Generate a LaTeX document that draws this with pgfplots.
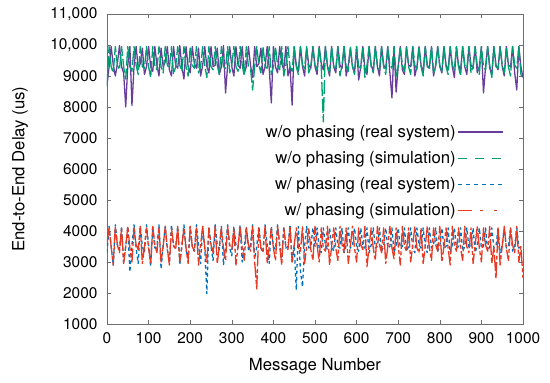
\documentclass[border=0pt]{standalone}
\usepackage{fontspec}
\setmainfont{TeX Gyre Heros}
\usepackage{pgfplots}
\usepackage{pgfplotstable}
\pgfplotsset{compat=1.18}
\definecolor{cpurple}{RGB}{106,61,154}
\definecolor{cgreen}{RGB}{0,158,115}
\definecolor{cblue}{RGB}{0,114,189}
\definecolor{cred}{RGB}{232,57,35}
\definecolor{caxis}{RGB}{110,110,110}

\pgfplotstableread[row sep=\\]{y\\
8700\\9300\\9950\\9350\\9000\\9400\\9980\\9300\\9100\\8000\\
9350\\9950\\8050\\9300\\9950\\9250\\9400\\9900\\9050\\9300\\
9950\\9300\\9150\\9950\\9350\\9000\\9900\\9300\\9450\\9950\\
9200\\9000\\9950\\9350\\9250\\9980\\9300\\8900\\9950\\9300\\
9100\\9950\\9400\\9250\\9900\\9000\\9350\\9950\\9300\\9100\\
9950\\9300\\9350\\9900\\9050\\9300\\9980\\8450\\9350\\9950\\
9300\\9000\\9950\\9350\\9250\\9950\\9100\\9300\\9950\\9350\\
8950\\9950\\9300\\9400\\9900\\9050\\9300\\9950\\9250\\8130\\
9950\\9300\\9100\\9950\\9400\\9200\\9950\\9000\\9300\\8060\\
9950\\9350\\9150\\9950\\9300\\9000\\9900\\9350\\9250\\9950\\
9300\\9050\\9950\\9400\\9200\\9950\\9300\\9000\\9950\\9300\\
9100\\9950\\9350\\9250\\9950\\9000\\9350\\9900\\9300\\9100\\
9950\\8870\\9300\\9950\\9250\\9050\\9950\\9350\\9150\\9950\\
9300\\9000\\9950\\9350\\9250\\9950\\9100\\8290\\9950\\8480\\
9300\\9950\\9200\\9050\\9950\\9350\\9300\\9950\\9000\\9300\\
9950\\9350\\9100\\9950\\9300\\9250\\9950\\9000\\9350\\9950\\
9300\\9100\\9950\\9350\\9200\\9950\\9300\\8950\\9950\\9350\\
9200\\9950\\9300\\9050\\9950\\9350\\9250\\9950\\9100\\9300\\
9950\\8450\\9300\\9950\\9250\\9050\\9950\\9350\\9200\\9950\\
9300\\9000\\9950\\9350\\9300\\9950\\9100\\8550\\9950\\9300\\
8950\\}\tblP

\pgfplotstableread[row sep=\\]{y\\
8650\\9950\\9300\\9100\\9950\\9350\\9200\\9950\\9300\\8900\\
9950\\9300\\9150\\9950\\9350\\9050\\9950\\9300\\9250\\9950\\
9300\\8950\\9950\\9350\\9200\\9950\\9300\\9100\\9950\\9350\\
9250\\9950\\9050\\9300\\9950\\9350\\9150\\9950\\9300\\9000\\
9950\\9350\\9250\\9950\\9100\\9300\\9950\\9350\\8950\\9950\\
9300\\9200\\9950\\9350\\9050\\9950\\9300\\9250\\9950\\9100\\
9350\\9950\\9300\\9150\\9950\\9350\\9000\\9950\\9300\\9250\\
8550\\9300\\9950\\9350\\9100\\9950\\9300\\9250\\9950\\9050\\
9300\\9950\\9350\\9200\\9950\\9000\\9350\\9950\\9300\\9150\\
9950\\9300\\9050\\9950\\9350\\9250\\9950\\9100\\9300\\9950\\
9350\\9200\\9950\\9300\\7520\\9950\\9350\\9100\\9950\\9300\\
9250\\9950\\9000\\9350\\9950\\9300\\9150\\9950\\9350\\9050\\
9950\\9300\\9250\\9950\\8950\\9350\\9950\\9300\\9100\\9950\\
9350\\9200\\9950\\9300\\9050\\9950\\9350\\9250\\9950\\9000\\
9300\\9950\\9350\\9150\\9950\\9300\\9050\\9950\\9350\\9200\\
9950\\9300\\9000\\9950\\9350\\9250\\9950\\9100\\9300\\9950\\
9350\\9150\\9950\\9300\\9050\\9950\\9350\\9200\\9950\\9300\\
9000\\9950\\9350\\9250\\9950\\9100\\9300\\9950\\9350\\9050\\
9950\\9300\\9200\\9950\\9350\\8950\\9950\\9300\\9250\\9950\\
9350\\9100\\9950\\9300\\9000\\9950\\9350\\9250\\9950\\9050\\
8900\\}\tblG

\pgfplotstableread[row sep=\\]{y\\
3300\\4150\\3500\\2900\\4200\\3550\\3400\\4150\\3000\\3500\\
4150\\2680\\3550\\4200\\3450\\2950\\4150\\3500\\3300\\4200\\
3550\\2850\\4150\\3450\\3500\\4200\\2770\\3550\\4150\\3400\\
3000\\4200\\3500\\3450\\4150\\2900\\3550\\4200\\3400\\3100\\
4150\\3500\\3350\\4200\\3550\\2950\\4150\\3450\\1980\\4150\\
3500\\3050\\4200\\3550\\3400\\4150\\2900\\3500\\4200\\3450\\
3200\\4150\\3550\\3450\\4200\\3000\\3500\\4150\\3400\\3550\\
4200\\3100\\3500\\4150\\3450\\3300\\4200\\3550\\2950\\4150\\
3500\\3400\\4200\\3550\\3100\\4150\\3450\\3500\\4200\\2950\\
3550\\2100\\4150\\2700\\2200\\3500\\4150\\3450\\3500\\4100\\
3500\\4100\\3450\\3300\\4100\\3550\\3400\\4100\\3500\\3350\\
4100\\3500\\3450\\4100\\3300\\3550\\4100\\3450\\3500\\4100\\
3500\\3350\\4100\\3500\\3450\\4100\\3300\\3550\\4100\\3450\\
3500\\4100\\3350\\3500\\4100\\3450\\3500\\4100\\3300\\3550\\
4100\\3450\\3500\\4100\\3350\\3500\\4100\\3450\\3300\\4100\\
3550\\3450\\4100\\3500\\3300\\4100\\3450\\3550\\4100\\3350\\
3500\\4100\\3450\\3500\\4100\\3300\\3550\\4100\\3450\\3500\\
4100\\3350\\3500\\4100\\3450\\3500\\4100\\3300\\3550\\4100\\
3450\\3500\\4100\\3350\\3500\\4100\\3450\\3500\\4100\\3300\\
3550\\4100\\3450\\3500\\4100\\3350\\3500\\4100\\3450\\3500\\
3500\\}\tblB

\pgfplotstableread[row sep=\\]{y\\
3600\\4100\\3500\\2900\\4150\\3550\\3300\\4100\\2950\\3500\\
4150\\3450\\3000\\4100\\3550\\3400\\4150\\2950\\3500\\4100\\
3450\\2950\\4150\\3550\\3300\\4100\\3000\\3500\\4150\\3450\\
2900\\4100\\3550\\3400\\4150\\3000\\3500\\4100\\3450\\2950\\
4150\\3500\\3350\\4100\\2900\\3550\\4150\\3450\\3000\\4100\\
3550\\3300\\4150\\2950\\3500\\4100\\3450\\3050\\4150\\3550\\
3400\\4100\\2900\\3500\\4150\\3450\\3050\\4100\\3550\\3350\\
4150\\3000\\2130\\4100\\3450\\3350\\4150\\2950\\3500\\4100\\
3450\\3050\\4150\\3550\\2900\\4100\\3500\\3400\\4150\\3000\\
3550\\4100\\3450\\3350\\4150\\2950\\3500\\4100\\3400\\3050\\
4150\\3550\\3000\\4100\\3450\\3350\\4150\\2900\\3500\\4100\\
3450\\3050\\4150\\3550\\3300\\4100\\2950\\3500\\4150\\3450\\
3000\\4100\\3550\\3400\\4150\\2850\\3500\\4100\\3450\\3050\\
4150\\3550\\3300\\4100\\2950\\3500\\4150\\3450\\3100\\4100\\
3550\\2900\\4150\\3500\\3350\\4100\\3000\\3550\\4150\\3450\\
3300\\4100\\2950\\3500\\4150\\3450\\3050\\4100\\3550\\3350\\
4150\\3000\\3500\\4100\\3450\\2900\\4150\\3550\\3350\\4100\\
3450\\3050\\4150\\3500\\3300\\4100\\2950\\3550\\4150\\3450\\
3000\\4100\\3550\\3350\\4150\\2950\\3500\\2450\\4100\\2900\\
3500\\4150\\3450\\3050\\4100\\3550\\3300\\4150\\3000\\3500\\
2480\\}\tblR

\begin{document}
\begin{tikzpicture}
\useasboundingbox (-107bp,-59bp) rectangle (443bp,324bp);
\begin{axis}[
  at={(0,0)}, anchor=south west,
  scale only axis, width=416bp, height=310bp,
  xmin=0, xmax=1000, ymin=1000, ymax=11000,
  xtick={0,100,...,1000},
  ytick={1000,2000,...,11000},
  yticklabels={1000,2000,3000,4000,5000,6000,7000,8000,9000,{10,000},{11,000}},
  scaled ticks=false,
  /pgf/number format/assume math mode=true,
  /pgf/number format/set thousands separator={},
  tick align=inside,
  major tick length=4bp,
  axis line style={caxis, line width=0.8bp},
  tick style={caxis, line width=0.6bp},
  tick label style={font=\fontsize{15.5}{18}\selectfont},
  xticklabel style={yshift=-5bp},
  yticklabel style={xshift=-6bp},
  every axis x label/.style={at={(axis description cs:0.5,0)}, anchor=center, yshift=-42bp, font=\fontsize{16.8}{20}\selectfont},
  every axis y label/.style={at={(axis description cs:0,0.5)}, anchor=center, rotate=90, yshift=87bp, font=\fontsize{16.8}{20}\selectfont},
  xlabel={Message Number},
  ylabel={End-to-End Delay (us)},
  legend plot pos=right,
  legend cell align=right,
  legend image code/.code={\draw[#1] (8bp,0bp) -- (53bp,0bp);},
  legend style={at={(0.962,0.655)}, anchor=north east, draw=none, fill=none,
    row sep=8.5bp, font=\fontsize{16.8}{20}\selectfont},
  every axis plot/.append style={line width=1.3bp, line join=round},
]
\addlegendimage{cpurple}
\addlegendentry{w/o phasing (real system)\hspace{9bp}}
\addlegendimage{cgreen, dash pattern=on 9bp off 8bp}
\addlegendentry{w/o phasing (simulation)\hspace{9bp}}
\addlegendimage{cblue, dash pattern=on 4bp off 4bp}
\addlegendentry{w/ phasing (real system)\hspace{9bp}}
\addlegendimage{cred, dash pattern=on 14bp off 8bp on 3bp off 11bp on 3bp off 20bp}
\addlegendentry{w/ phasing (simulation)\hspace{9bp}}
\addplot[cpurple, forget plot] table[x expr=\coordindex*5, y=y] {\tblP};
\addplot[cgreen, forget plot, dash pattern=on 14bp off 3bp] table[x expr=\coordindex*5, y=y] {\tblG};
\addplot[cblue, forget plot, dash pattern=on 3.5bp off 3bp] table[x expr=\coordindex*5, y=y] {\tblB};
\addplot[cred, forget plot, dash pattern=on 16bp off 2.5bp on 4bp off 2.5bp] table[x expr=\coordindex*5, y=y] {\tblR};
\end{axis}
\end{tikzpicture}
\end{document}
